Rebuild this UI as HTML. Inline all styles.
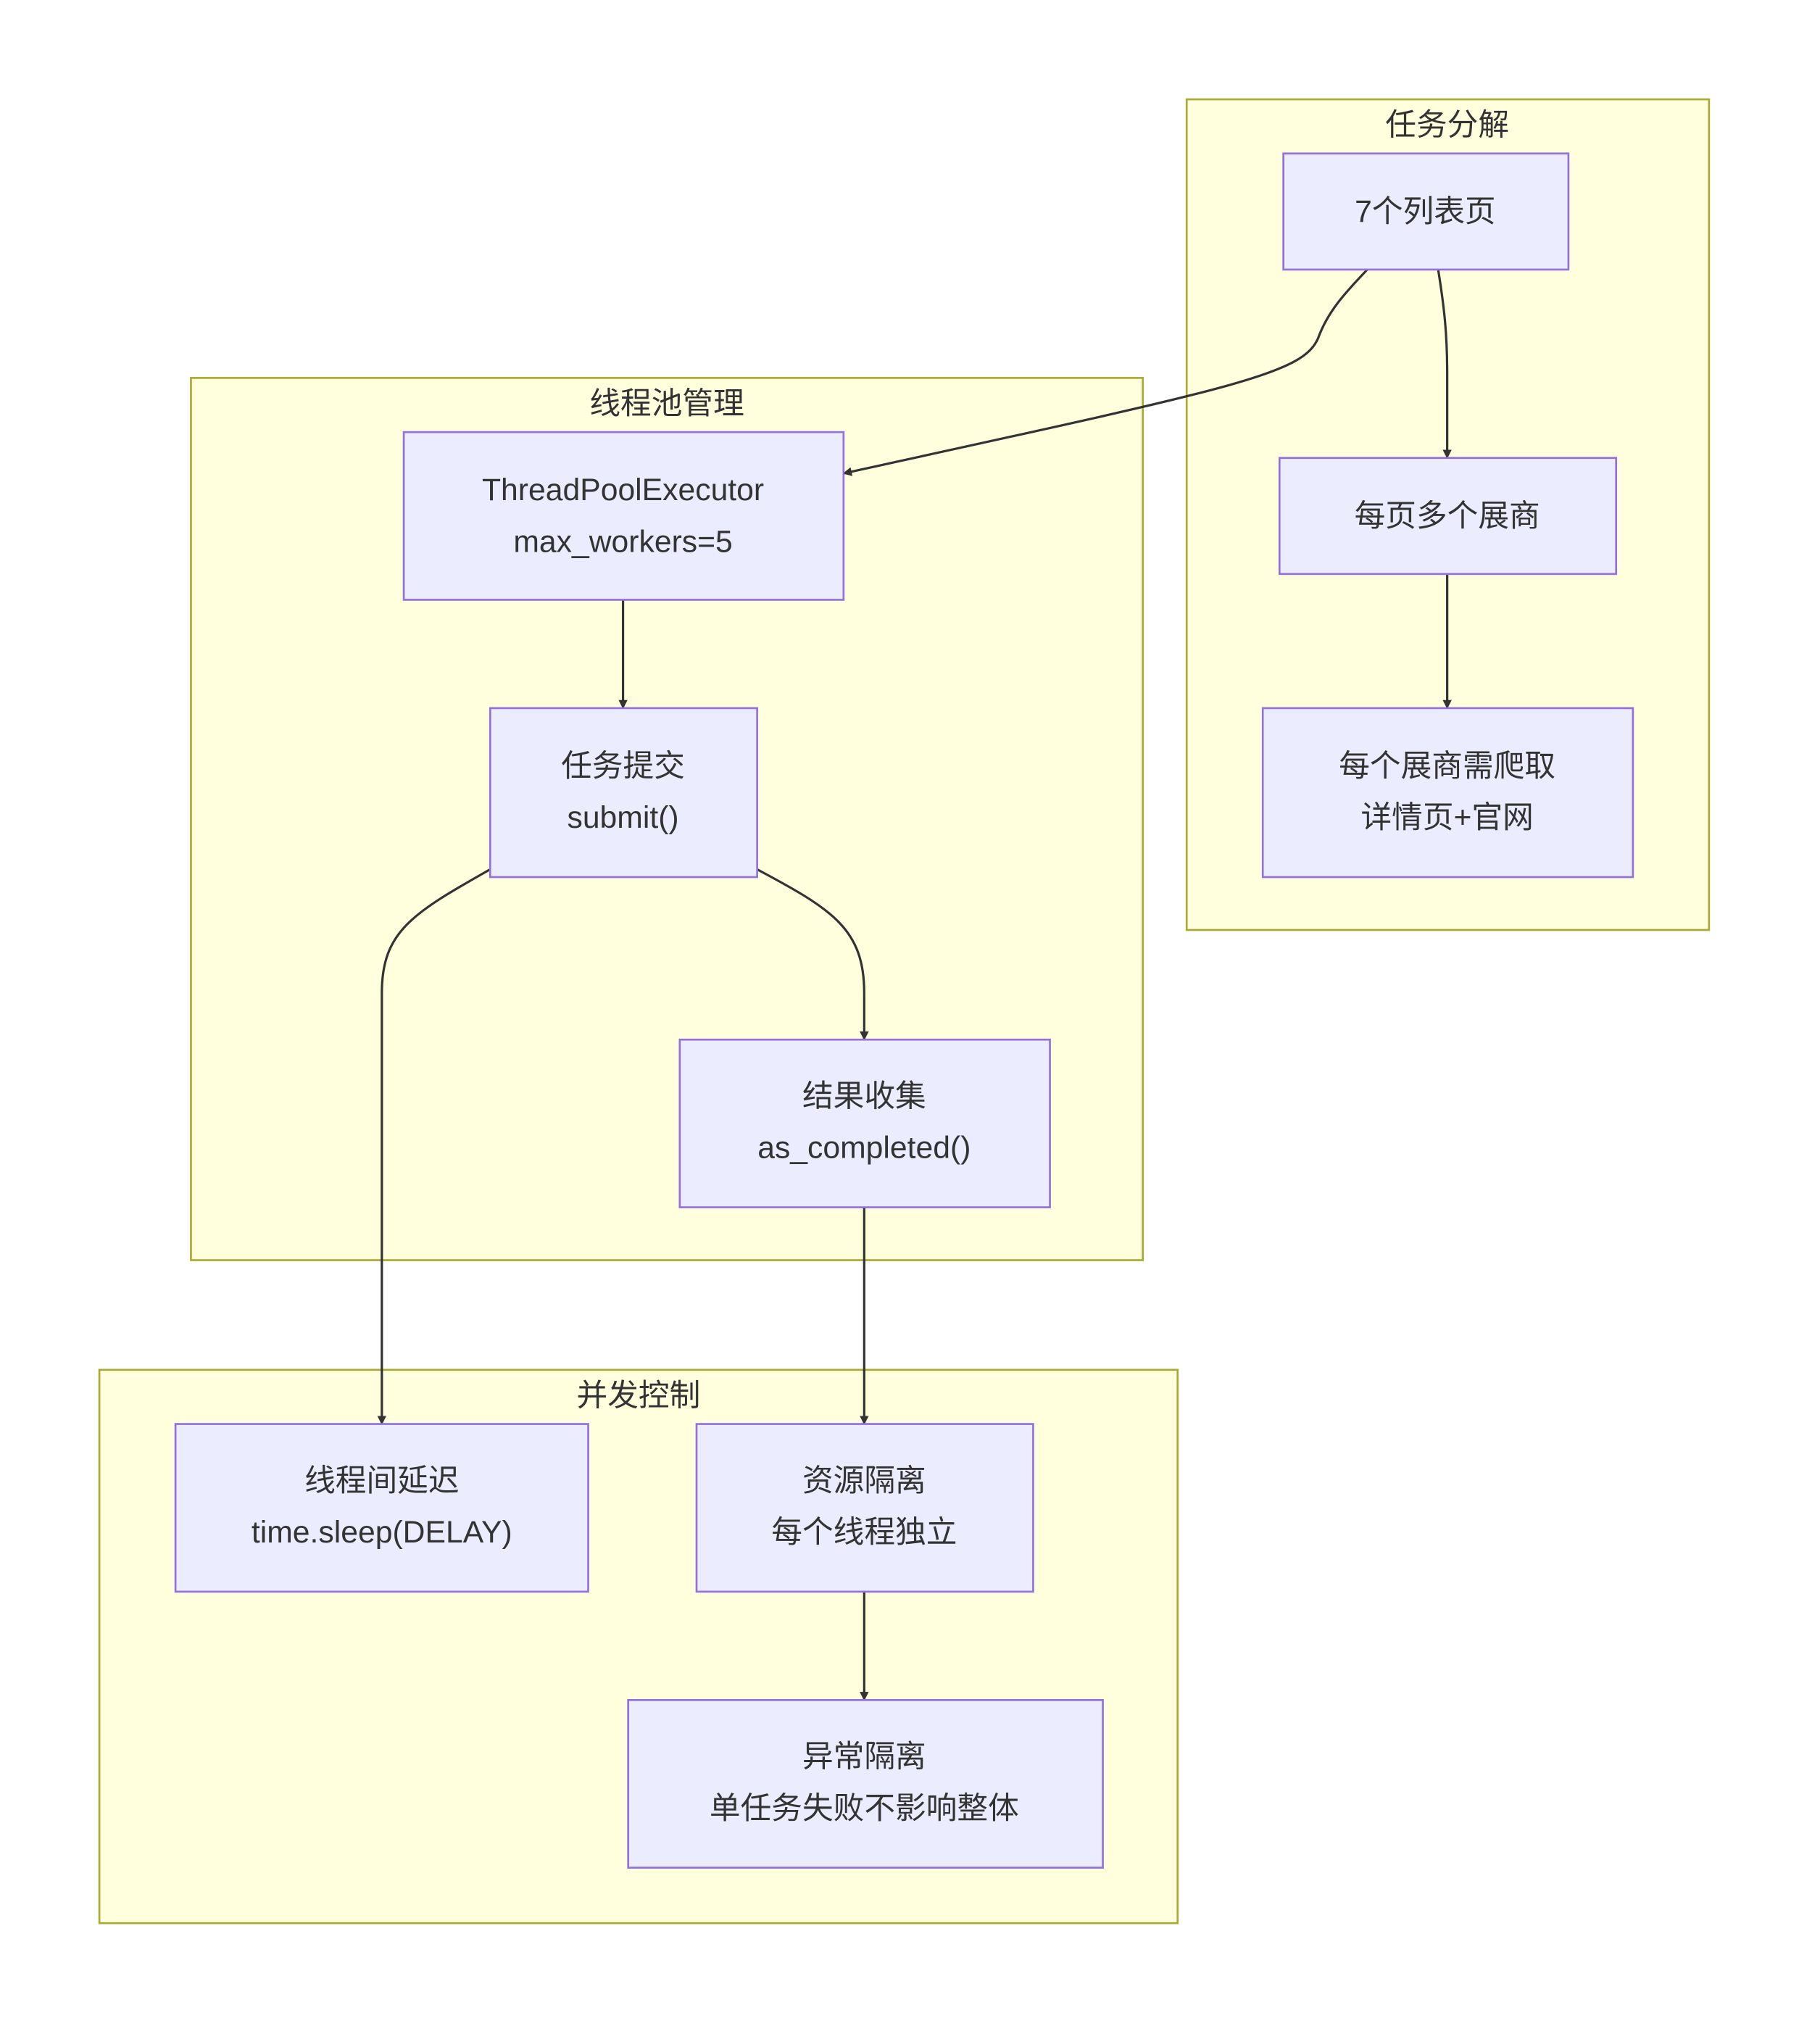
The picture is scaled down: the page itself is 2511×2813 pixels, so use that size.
<!DOCTYPE html>
<html><head><meta charset="utf-8"><style>
html,body{margin:0;padding:0;background:#fff;}
svg text{font-family:"Liberation Sans","Noto Sans CJK SC",sans-serif;fill:#333;font-size:24px;text-anchor:middle;dominant-baseline:central;}
.c{fill:#ffffde;stroke:#aaaa33;stroke-width:1.5;}
.n{fill:#ECECFF;stroke:#9370DB;stroke-width:1.5;}
.e{fill:none;stroke:#333;stroke-width:1.8;}
</style></head><body>
<svg width="2511" height="2808" viewBox="0 0 1411 1578" xmlns="http://www.w3.org/2000/svg">
<defs><marker id="a" viewBox="0 0 10 10" refX="9" refY="5" markerWidth="7" markerHeight="7" orient="auto-start-reverse" markerUnits="userSpaceOnUse"><path d="M0,0L10,5L0,10z" fill="#333"/></marker></defs>
<rect class="c" x="920" y="77" width="405" height="644"/>
<text x="1122" y="97">任务分解</text>
<rect class="c" x="148" y="293" width="738" height="684"/>
<text x="517" y="313">线程池管理</text>
<rect class="c" x="77" y="1062" width="836" height="429"/>
<text x="495" y="1082">并发控制</text>

<path class="e" marker-end="url(#a)" d="M1060,209 C1045,225 1030,240 1022,262 C1010,290 960,300 654,367"/>
<path class="e" marker-end="url(#a)" d="M1115,209 C1120,240 1122,260 1122,290 L1122,355"/>
<path class="e" marker-end="url(#a)" d="M1122,445 L1122,549"/>
<path class="e" marker-end="url(#a)" d="M483,465 L483,549"/>
<path class="e" marker-end="url(#a)" d="M380,674 C320,708 296,722 296,770 L296,1104"/>
<path class="e" marker-end="url(#a)" d="M587,674 C645,705 670,720 670,770 L670,806"/>
<path class="e" marker-end="url(#a)" d="M670,936 L670,1104"/>
<path class="e" marker-end="url(#a)" d="M670,1234 L670,1318"/>

<rect class="n" x="995" y="119" width="221" height="90"/>
<text x="1105" y="164">7个列表页</text>
<rect class="n" x="992" y="355" width="261" height="90"/>
<text x="1122" y="400">每页多个展商</text>
<rect class="n" x="979" y="549" width="287" height="131"/>
<text x="1122" y="594">每个展商需爬取</text>
<text x="1122" y="634">详情页+官网</text>

<rect class="n" x="313" y="335" width="341" height="130"/>
<text x="483" y="380">ThreadPoolExecutor</text>
<text x="483" y="420">max_workers=5</text>
<rect class="n" x="380" y="549" width="207" height="131"/>
<text x="483" y="594">任务提交</text>
<text x="483" y="634">submit()</text>
<rect class="n" x="527" y="806" width="287" height="130"/>
<text x="670" y="850">结果收集</text>
<text x="670" y="890">as_completed()</text>

<rect class="n" x="136" y="1104" width="320" height="130"/>
<text x="296" y="1148">线程间延迟</text>
<text x="296" y="1188">time.sleep(DELAY)</text>
<rect class="n" x="540" y="1104" width="261" height="130"/>
<text x="670" y="1148">资源隔离</text>
<text x="670" y="1188">每个线程独立</text>
<rect class="n" x="487" y="1318" width="368" height="130"/>
<text x="670" y="1362">异常隔离</text>
<text x="670" y="1402">单任务失败不影响整体</text>
</svg>
</body></html>
